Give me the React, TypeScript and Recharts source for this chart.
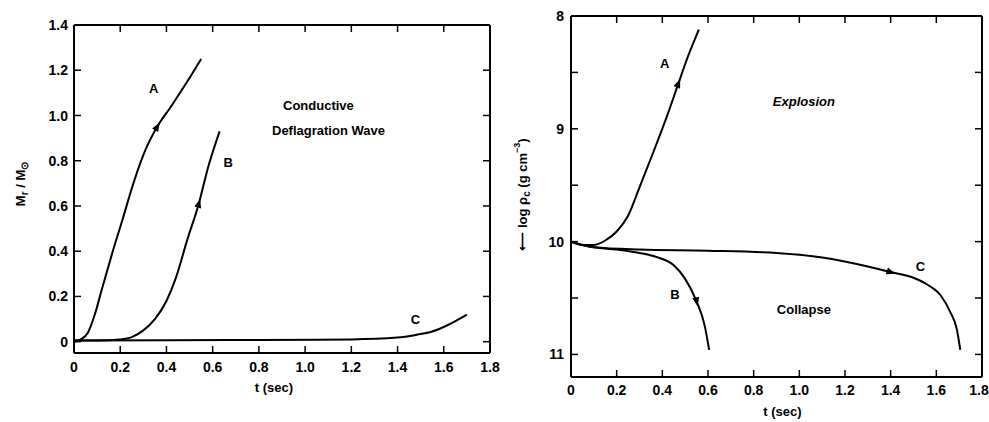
import React from 'react';
import { LineChart, Line, XAxis, YAxis, ReferenceDot, ReferenceLine } from 'recharts';

// shared axis ticks
const timeTicks = [0, 0.2, 0.4, 0.6, 0.8, 1.0, 1.2, 1.4, 1.6, 1.8];
const massTicks = [0, 0.2, 0.4, 0.6, 0.8, 1.0, 1.2, 1.4];
const densityTicks = [8, 8.5, 9, 9.5, 10, 10.5, 11];

// left panel: M_r / M_sun vs t (sec)
const massTimeA = [0, 0.03, 0.06, 0.09, 0.12, 0.165, 0.21, 0.26, 0.31, 0.36, 0.42, 0.49, 0.55];
const massA = [0, 0.01, 0.04, 0.12, 0.23, 0.39, 0.54, 0.71, 0.85, 0.95, 1.04, 1.15, 1.25];
const massTimeB = [0, 0.1, 0.2, 0.25, 0.3, 0.35, 0.4, 0.44, 0.49, 0.54, 0.58, 0.63];
const massB = [0.005, 0.005, 0.01, 0.02, 0.05, 0.1, 0.18, 0.28, 0.45, 0.61, 0.77, 0.93];
const massTimeC = [0, 0.4, 0.8, 1.2, 1.4, 1.48, 1.55, 1.62, 1.7];
const massC = [0.005, 0.006, 0.008, 0.01, 0.018, 0.03, 0.045, 0.075, 0.12];

// right panel: log rho_c vs t (sec)
const rhoTimeA = [0, 0.05, 0.1, 0.15, 0.2, 0.25, 0.3, 0.36, 0.42, 0.47, 0.51, 0.56];
const rhoA = [10, 10.03, 10.03, 9.99, 9.91, 9.77, 9.52, 9.21, 8.89, 8.6, 8.37, 8.12];
const rhoTimeB = [0, 0.05, 0.1, 0.2, 0.3, 0.38, 0.45, 0.5, 0.55, 0.585, 0.605];
const rhoB = [10, 10.03, 10.05, 10.07, 10.1, 10.14, 10.21, 10.33, 10.53, 10.74, 10.96];
const rhoTimeC = [0, 0.05, 0.1, 0.3, 0.6, 0.9, 1.1, 1.3, 1.4, 1.5, 1.56, 1.62, 1.66, 1.69, 1.705];
const rhoC = [10, 10.03, 10.05, 10.07, 10.08, 10.1, 10.14, 10.22, 10.27, 10.32, 10.38, 10.48, 10.62, 10.78, 10.96];

// curve labels and direction arrows
const massLabels = [
  { t: 0.345, v: 1.12, text: 'A' },
  { t: 0.667, v: 0.79, text: 'B' },
  { t: 1.477, v: 0.1, text: 'C' },
];
const massArrows = [
  { t: 0.36, v: 0.95, angle: -59 },
  { t: 0.54, v: 0.61, angle: -74 },
];
const rhoLabels = [
  { t: 0.41, v: 8.42, text: 'A' },
  { t: 0.455, v: 10.47, text: 'B' },
  { t: 1.53, v: 10.22, text: 'C' },
  { t: 1.02, v: 8.76, text: 'Explosion', italic: true },
  { t: 1.02, v: 10.6, text: 'Collapse' },
];
const rhoArrows = [
  { t: 0.47, v: 8.6, angle: -68 },
  { t: 0.55, v: 10.53, angle: 78 },
  { t: 1.4, v: 10.27, angle: 18 },
];

const zip = (ts: number[], vs: number[]) => ts.map((t, i) => ({ t, v: vs[i] }));

const FONT = '"Liberation Sans", Arial, Helvetica, sans-serif';
const TICK_PX = 7;

const fmt = (v: number) => (v === 0 ? '0' : v.toFixed(1));
const intOnly = (v: number) => (Number.isInteger(v) ? String(v) : '');

const bottomTick = (p: any) => (
  <text x={p.x} y={p.y} dy="0.72em" textAnchor="middle" fontFamily={FONT} fontWeight="bold" fontSize={14} fill="#000">
    {fmt(p.payload.value)}
  </text>
);

const leftTick = (label: (v: number) => string) => (p: any) => (
  <text x={p.x} y={p.y} dy="0.36em" textAnchor="end" fontFamily={FONT} fontWeight="bold" fontSize={14} fill="#000">
    {label(p.payload.value)}
  </text>
);

// top/right frame edges and inward tick marks on all four sides, as reference segments
type Frame = { x0: number; x1: number; yBottom: number; yTop: number; w: number; h: number };
const frame = (f: Frame, xs: number[], ys: number[]) => {
  const dx = ((f.x1 - f.x0) * TICK_PX) / f.w;
  const dy = ((f.yTop - f.yBottom) * TICK_PX) / f.h; // signed: bottom -> top
  const segs: { x: number; y: number }[][] = [];
  xs.forEach((t) => {
    segs.push([{ x: t, y: f.yBottom }, { x: t, y: f.yBottom + dy }]);
    segs.push([{ x: t, y: f.yTop }, { x: t, y: f.yTop - dy }]);
  });
  ys.forEach((v) => {
    segs.push([{ x: f.x0, y: v }, { x: f.x0 + dx, y: v }]);
    segs.push([{ x: f.x1, y: v }, { x: f.x1 - dx, y: v }]);
  });
  return [
    <ReferenceLine key="top" y={f.yTop} stroke="#000" strokeWidth={2} ifOverflow="visible" />,
    <ReferenceLine key="right" x={f.x1} stroke="#000" strokeWidth={2} ifOverflow="visible" />,
    ...segs.map((s, i) => (
      <ReferenceLine key={'tk' + i} segment={s} stroke="#000" strokeWidth={1.5} ifOverflow="visible" />
    )),
  ];
};

const arrowShape = (angle: number) => (p: any) => (
  <polygon points="5,0 -4,-3.5 -4,3.5" fill="#000" transform={`translate(${p.cx},${p.cy}) rotate(${angle})`} />
);

const textShape = (text: string, italic?: boolean) => (p: any) => (
  <text x={p.cx} y={p.cy} textAnchor="middle" dominantBaseline="central" fontFamily={FONT} fontWeight="bold"
    fontStyle={italic ? 'italic' : 'normal'} fontSize={13} fill="#000">
    {text}
  </text>
);

const timeTitle = (dx: number) => (p: any) => {
  const vb = p.viewBox;
  return (
    <text x={vb.x + vb.width / 2 + dx} y={vb.y + vb.height - 3} textAnchor="middle" fontFamily={FONT} fontWeight="bold" fontSize={13} fill="#000">
      t (sec)
    </text>
  );
};

const massTitle = (p: any) => {
  const vb = p.viewBox;
  const cy = vb.y + vb.height / 2 - 5;
  return (
    <text transform={`translate(20,${cy}) rotate(-90)`} textAnchor="middle" dominantBaseline="central" fontFamily={FONT} fontWeight="bold" fontSize={13} fill="#000">
      M<tspan dy={4} fontSize={10}>r</tspan><tspan dy={-4}> / M</tspan><tspan dy={4} fontSize={10}>⊙</tspan>
    </text>
  );
};

const rhoTitle = (p: any) => {
  const vb = p.viewBox;
  const cy = vb.y + vb.height / 2 - 2;
  return (
    <text transform={`translate(27,${cy}) rotate(-90)`} textAnchor="middle" dominantBaseline="central" fontFamily={FONT} fontWeight="bold" fontSize={13} fill="#000">
      ⟵ log ρ<tspan dy={4} fontSize={10}>c</tspan><tspan dy={-4}> (g cm</tspan><tspan dy={-5} fontSize={9}>−3</tspan><tspan dy={5}>)</tspan>
    </text>
  );
};

const axisLine = { stroke: '#000', strokeWidth: 2 };
const curve = { type: 'monotone' as const, stroke: '#000', strokeWidth: 2, dot: false, isAnimationActive: false };

const MassPanel = () => (
  <LineChart width={500} height={422} margin={{ top: 25, right: 10, bottom: 27, left: 0 }}>
    <XAxis dataKey="t" type="number" domain={[0, 1.8]} ticks={timeTicks}
      height={42} tickSize={0} tickMargin={9} tickLine={false} axisLine={axisLine} tick={bottomTick}
      label={{ content: timeTitle(-8) }} />
    <YAxis type="number" domain={[-0.05, 1.4]} ticks={massTicks}
      width={74} tickSize={0} tickMargin={6} tickLine={false} axisLine={axisLine} tick={leftTick(fmt)}
      label={{ content: massTitle }} />
    {frame({ x0: 0, x1: 1.8, yBottom: -0.05, yTop: 1.4, w: 416, h: 328 }, timeTicks.slice(1, -1), massTicks.slice(0, -1))}
    <Line data={zip(massTimeA, massA)} dataKey="v" {...curve} />
    <Line data={zip(massTimeB, massB)} dataKey="v" {...curve} />
    <Line data={zip(massTimeC, massC)} dataKey="v" {...curve} />
    {massArrows.map((a, i) => (
      <ReferenceDot key={'a' + i} x={a.t} y={a.v} r={0} shape={arrowShape(a.angle)} />
    ))}
    {massLabels.map((l, i) => (
      <ReferenceDot key={'l' + i} x={l.t} y={l.v} r={0} shape={textShape(l.text)} />
    ))}
  </LineChart>
);

const RhoPanel = () => (
  <LineChart width={494} height={422} margin={{ top: 16, right: 7, bottom: 3, left: 0 }}>
    <XAxis dataKey="t" type="number" domain={[0, 1.8]} ticks={timeTicks}
      height={42} tickSize={0} tickMargin={8} tickLine={false} axisLine={axisLine} tick={bottomTick}
      label={{ content: timeTitle(6) }} />
    <YAxis type="number" domain={[8, 11.2]} reversed ticks={densityTicks}
      width={76} tickSize={0} tickMargin={7} tickLine={false} axisLine={axisLine} tick={leftTick(intOnly)}
      label={{ content: rhoTitle }} />
    {frame({ x0: 0, x1: 1.8, yBottom: 11.2, yTop: 8, w: 411, h: 361 }, timeTicks.slice(1, -1), densityTicks.slice(1))}
    <Line data={zip(rhoTimeA, rhoA)} dataKey="v" {...curve} />
    <Line data={zip(rhoTimeB, rhoB)} dataKey="v" {...curve} />
    <Line data={zip(rhoTimeC, rhoC)} dataKey="v" {...curve} />
    {rhoArrows.map((a, i) => (
      <ReferenceDot key={'a' + i} x={a.t} y={a.v} r={0} shape={arrowShape(a.angle)} />
    ))}
    {rhoLabels.map((l, i) => (
      <ReferenceDot key={'l' + i} x={l.t} y={l.v} r={0} shape={textShape(l.text, l.italic)} />
    ))}
  </LineChart>
);

export default function App() {
  return (
    <div style={{ position: 'absolute', left: 0, top: 0, width: 989, height: 422, background: '#fff' }}>
      <div style={{ position: 'absolute', left: 0, top: 0 }}>
        <MassPanel />
        <svg width={500} height={422} style={{ position: 'absolute', left: 0, top: 0, pointerEvents: 'none' }}>
          <text x={283} y={110} fontFamily={FONT} fontWeight="bold" fontSize={13} fill="#000">Conductive</text>
          <text x={272} y={135} fontFamily={FONT} fontWeight="bold" fontSize={13} fill="#000">Deflagration Wave</text>
        </svg>
      </div>
      <div style={{ position: 'absolute', left: 495, top: 0 }}>
        <RhoPanel />
      </div>
    </div>
  );
}
